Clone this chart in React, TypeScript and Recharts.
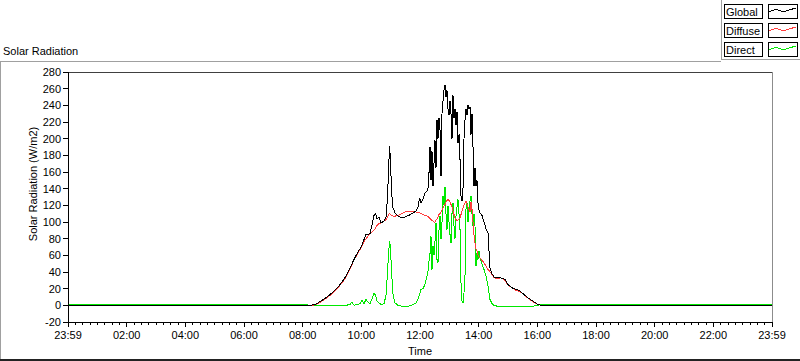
import { Legend, Line, LineChart, ReferenceLine, XAxis, YAxis } from "recharts";

// time of day in hours
const hours = [
  0, 8.08, 8.25, 8.42, 8.523, 8.659, 8.83, 9.034, 9.205, 9.341, 9.477, 9.614, 9.682, 9.75, 9.852, 9.955,
  10.023, 10.091, 10.159, 10.227, 10.295, 10.364, 10.432, 10.483, 10.534, 10.602, 10.67, 10.773, 10.841,
  10.892, 10.926, 10.96, 10.994, 11.028, 11.08, 11.148, 11.25, 11.386, 11.489, 11.625, 11.761, 11.864,
  11.932, 11.983, 12.034, 12.102, 12.17, 12.239, 12.29, 12.324, 12.341, 12.375, 12.409, 12.443, 12.477,
  12.511, 12.545, 12.58, 12.614, 12.648, 12.682, 12.716, 12.75, 12.784, 12.818, 12.852, 12.886, 12.92,
  12.955, 12.989, 13.023, 13.057, 13.091, 13.125, 13.159, 13.193, 13.227, 13.261, 13.295, 13.33, 13.364,
  13.398, 13.432, 13.466, 13.5, 13.534, 13.568, 13.602, 13.636, 13.67, 13.705, 13.739, 13.773, 13.807,
  13.841, 13.875, 13.909, 13.943, 13.977, 14.011, 14.045, 14.114, 14.182, 14.25, 14.318, 14.352, 14.386,
  14.455, 14.523, 14.625, 14.761, 14.898, 15.0, 15.136, 15.273, 15.375, 15.477, 15.58, 15.682, 15.852,
  16.023, 16.125, 16.261, 24,
];

const globalRad = [
  0, 0, 0, 1, 3, 6, 10, 16, 22, 28, 35, 45, 50, 55, 62, 68,
  72, 79, 85, 85, 86, 96, 108, 110, 104, 106, 99, 101, 106,
  129, 160, 191, 175, 137, 117, 111, 107, 105, 106, 108, 111, 113,
  118, 129, 123, 127, 135, 137, 143, 175, 190, 150, 185, 143, 170,
  198, 165, 222, 200, 225, 210, 155, 230, 245, 258, 264, 250, 258,
  236, 228, 245, 230, 200, 252, 225, 236, 216, 232, 195, 205, 175,
  131, 125, 140, 200, 222, 236, 228, 240, 236, 238, 205, 230, 190,
  143, 165, 143, 150, 123, 115, 111, 108, 100, 92, 87, 65, 45,
  38, 34, 33, 33, 31, 25, 21, 19, 18, 15, 12, 9, 5,
  1, 0, 0, 0,
];

const diffuseRad = [
  0, 0, 0, 0.5, 2, 5, 9, 15, 21, 27, 34, 44, 49, 54, 61, 67,
  71, 76, 80, 83, 86, 88, 90, 93, 96, 98, 99, 101, 103,
  106, 109, 110, 109, 108, 107, 107, 108, 110, 112, 113, 113, 112,
  112, 111, 110, 109, 108, 107, 106, 105, 104, 103, 102, 101, 100,
  100, 102, 104, 106, 109, 110, 112, 114, 117, 119, 121, 124, 126,
  127, 126, 124, 121, 118, 113, 109, 105, 103, 101, 102, 104, 105,
  109, 113, 117, 120, 123, 125, 122, 118, 115, 112, 124, 115, 100,
  85, 75, 68, 65, 60, 58, 57, 54, 51, 47, 43, 42, 40,
  37, 33, 32, 33, 30, 24, 21, 18, 17, 15, 11, 9, 4,
  1, 0, 0, 0,
];

const directRad = [
  1, 1, 0, 0, 0, 0, 0, 0, 0, 0, 0, 1, 4, 0, 1, 2,
  6, 2, 7, 4, 2, 8, 15, 12, 5, 3, 1, 2, 12,
  40, 60, 77, 70, 41, 13, 3, 0, -1, -2, -1, 1, 3,
  8, 13, 19, 20, 25, 35, 45, 62, 61, 83, 43, 71, 60,
  77, 99, 55, 51, 90, 107, 80, 100, 131, 120, 142, 110, 91,
  119, 100, 85, 75, 110, 123, 95, 80, 107, 118, 127, 110, 91,
  27, 5, 3, 15, 35, 115, 123, 100, 115, 125, 131, 110, 95,
  110, 95, 47, 63, 55, 65, 57, 50, 43, 35, 23, 15, 7,
  2, 0, -1, -1, -1, -1, -1, -1, -1, -1, -1, -1, -1,
  0, 1, 1, 1,
];

const seriesNames = ["Global", "Diffuse", "Direct"];
const seriesColors = ["#000000", "#ff3c3c", "#00e800"];

const yTicks = [-20, 0, 20, 40, 60, 80, 100, 120, 140, 160, 180, 200, 220, 240, 260, 280];
const majorTicks = [0, 2, 4, 6, 8, 10, 12, 14, 16, 18, 20, 22, 24];
const xTickLabels = ["23:59", "02:00", "04:00", "06:00", "08:00", "10:00", "12:00", "14:00", "16:00", "18:00", "20:00", "22:00", "23:59"];
// minor ticks every quarter hour
const allTicks = Array.from({ length: 97 }, (_, i) => i / 4);

const data = hours.map((t, i) => ({
  t,
  Global: globalRad[i],
  Diffuse: diffuseRad[i],
  Direct: directRad[i],
}));

const FONT = '"Liberation Sans", Arial, sans-serif';

function TimeTick(props: any) {
  const { x, y, payload } = props;
  const idx = majorTicks.indexOf(payload.value);
  const major = idx >= 0;
  return (
    <g>
      <line x1={x} y1={y} x2={x} y2={y + (major ? 5 : 3)} stroke="#000" />
      {major && (
        <text x={x} y={y + 17} textAnchor="middle" fontSize={11} fill="#000">
          {xTickLabels[idx]}
        </text>
      )}
    </g>
  );
}

function YLabel(props: any) {
  const vb = props.viewBox || { x: 0, y: 0, width: 0, height: 0 };
  const cx = vb.x + 33;
  const cy = vb.y + vb.height / 2 - 13;
  return (
    <text
      x={cx}
      y={cy}
      dy="0.35em"
      textAnchor="middle"
      fontSize={11}
      fill="#000"
      transform={`rotate(-90 ${cx} ${cy})`}
    >
      Solar Radiation (W/m2)
    </text>
  );
}

function LegendBox(props: any) {
  const payload = props.payload || [];
  const items = seriesNames.map((name) => payload.find((p: any) => p.value === name)).filter(Boolean);
  return (
    <svg width={79} height={61} style={{ display: "block" }}>
      <line x1={0.5} y1={0} x2={0.5} y2={60} stroke="#a0a0a0" />
      <line x1={0} y1={59.5} x2={79} y2={59.5} stroke="#a0a0a0" />
      {items.map((it: any, i: number) => {
        const top = 4 + i * 19;
        return (
          <g key={it.value}>
            <rect x={3.5} y={top + 0.5} width={38} height={14} fill="#fff" stroke="#000" />
            <text x={5} y={top + 12} fontSize={11} fill="#000">
              {it.value}
            </text>
            <rect x={47.5} y={top + 0.5} width={29} height={14} fill="#fff" stroke="#000" />
            <polyline
              points={`48,${top + 8} 55,${top + 5} 62,${top + 8} 68,${top + 6} 75,${top + 4}`}
              fill="none"
              stroke={it.color}
            />
          </g>
        );
      })}
    </svg>
  );
}

export default function App() {
  return (
    <div
      style={{
        position: "absolute",
        left: 0,
        top: 0,
        width: 800,
        height: 361,
        background: "#fff",
        fontFamily: FONT,
        shapeRendering: "crispEdges",
      }}
    >
      <svg width={800} height={361} style={{ position: "absolute", left: 0, top: 0 }}>
        <text x={3} y={55} fontSize={11} fill="#000">
          Solar Radiation
        </text>
        <line x1={0} y1={61.5} x2={721} y2={61.5} stroke="#a0a0a0" />
        <line x1={0.5} y1={61} x2={0.5} y2={361} stroke="#a0a0a0" />
        <rect x={0} y={359} width={800} height={2} fill="#222" />
      </svg>
      <div style={{ position: "absolute", left: 0, top: 0 }}>
        <LineChart width={800} height={361} data={data} margin={{ top: 72, right: 28, bottom: 0, left: 0 }}>
          <XAxis
            dataKey="t"
            type="number"
            domain={[0, 24]}
            ticks={allTicks}
            interval={0}
            tick={<TimeTick />}
            tickLine={false}
            tickSize={0}
            tickMargin={0}
            axisLine={{ stroke: "#000" }}
            height={39}
            label={{ value: "Time", position: "insideBottom", offset: 6, fontSize: 11, fill: "#000" }}
          />
          <YAxis
            type="number"
            domain={[-20, 280]}
            ticks={yTicks}
            interval={0}
            width={68}
            tickSize={5}
            tickMargin={2}
            axisLine={{ stroke: "#000" }}
            tickLine={{ stroke: "#000" }}
            tick={{ fontSize: 11, fill: "#000" }}
            label={{ value: "Solar Radiation (W/m2)", content: <YLabel /> }}
          />
          <ReferenceLine y={280} stroke="#404040" />
          <ReferenceLine x={24} stroke="#8c8c8c" />
          <Legend
            layout="vertical"
            align="center"
            verticalAlign="middle"
            content={<LegendBox />}
            wrapperStyle={{ position: "absolute", left: 721, top: 0, width: 79, height: 61 }}
          />
          <Line dataKey="Direct" name="Direct" type="linear" stroke={seriesColors[2]} strokeWidth={1} dot={false} isAnimationActive={false} />
          <Line dataKey="Diffuse" name="Diffuse" type="linear" stroke={seriesColors[1]} strokeWidth={1} dot={false} isAnimationActive={false} />
          <Line dataKey="Global" name="Global" type="linear" stroke={seriesColors[0]} strokeWidth={1} dot={false} isAnimationActive={false} />
        </LineChart>
      </div>
    </div>
  );
}
